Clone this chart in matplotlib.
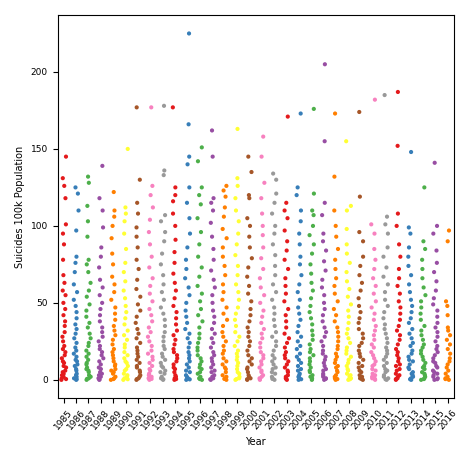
import pandas as pd
import matplotlib
matplotlib.use("Agg")
import matplotlib.pyplot as plt
import seaborn as sns

years = list(range(1985, 2017))

# approximate suicide rates per country for each year
rates = {
    1985: [0, 0.5, 1, 2, 3, 4, 5, 6, 8, 9, 11, 12, 14, 16, 18, 20, 22, 25, 28, 31, 35, 38, 42, 46, 50, 55, 58, 63, 68, 78, 88, 95, 101, 118, 126, 131, 145],
    1986: [0, 0.4, 1, 2, 3, 4, 6, 7, 9, 10, 12, 13, 15, 17, 19, 21, 24, 27, 30, 33, 36, 40, 44, 48, 52, 57, 62, 70, 76, 80, 97, 110, 121, 125],
    1987: [0, 0.6, 1, 2, 3, 5, 6, 7, 8, 10, 11, 13, 15, 17, 19, 22, 24, 27, 30, 34, 37, 41, 45, 49, 54, 58, 63, 70, 75, 78, 93, 103, 113, 128, 132],
    1988: [0, 0.3, 1, 2, 3, 4, 5, 7, 8, 10, 12, 14, 16, 18, 20, 22, 25, 28, 31, 34, 38, 42, 46, 50, 55, 60, 65, 73, 80, 86, 99, 110, 118, 139],
    1989: [0, 0.5, 1, 2, 4, 5, 6, 7, 9, 10, 12, 14, 16, 18, 20, 23, 26, 29, 32, 35, 39, 43, 47, 52, 57, 62, 67, 75, 82, 92, 100, 106, 110, 122],
    1990: [0, 0.4, 1, 2, 3, 4, 6, 7, 9, 11, 12, 14, 16, 18, 21, 23, 26, 29, 32, 36, 40, 44, 48, 53, 58, 64, 70, 76, 85, 95, 103, 108, 112, 150],
    1991: [0, 0.5, 1, 2, 3, 5, 6, 8, 9, 11, 13, 15, 17, 19, 21, 24, 27, 30, 33, 37, 41, 45, 49, 54, 59, 65, 72, 78, 86, 93, 99, 108, 115, 130, 177],
    1992: [0, 0.6, 1, 2, 3, 4, 6, 7, 9, 11, 13, 15, 17, 19, 22, 25, 28, 31, 34, 38, 42, 46, 51, 56, 61, 66, 73, 80, 88, 96, 104, 112, 120, 126, 177],
    1993: [0, 0.4, 1, 2, 4, 5, 6, 8, 9, 11, 13, 15, 17, 20, 22, 25, 28, 31, 35, 39, 43, 47, 52, 57, 62, 68, 75, 82, 90, 96, 103, 107, 133, 136, 178],
    1994: [0, 0.5, 1, 2, 3, 5, 7, 8, 10, 12, 14, 16, 18, 20, 23, 26, 29, 32, 36, 40, 44, 48, 53, 58, 63, 69, 76, 83, 91, 100, 108, 116, 120, 125, 177],
    1995: [0, 0.3, 1, 2, 3, 5, 6, 8, 10, 12, 14, 16, 18, 21, 24, 27, 30, 33, 37, 41, 45, 50, 55, 60, 66, 72, 78, 86, 95, 105, 115, 125, 140, 145, 166, 225],
    1996: [0, 0.5, 1, 2, 4, 5, 7, 8, 10, 12, 14, 16, 19, 21, 24, 27, 30, 34, 38, 42, 46, 51, 56, 61, 67, 73, 80, 88, 96, 105, 114, 120, 125, 142, 151],
    1997: [0, 0.4, 1, 2, 3, 5, 6, 8, 10, 12, 14, 16, 18, 21, 24, 27, 30, 33, 37, 41, 45, 50, 55, 60, 65, 71, 78, 85, 93, 102, 110, 115, 118, 145, 162],
    1998: [0, 0.6, 1, 2, 3, 5, 7, 8, 10, 12, 14, 17, 19, 22, 25, 28, 31, 35, 39, 43, 47, 52, 57, 62, 68, 74, 80, 86, 92, 98, 106, 112, 119, 123, 126],
    1999: [0, 0.5, 1, 2, 4, 5, 7, 9, 11, 13, 15, 17, 19, 22, 25, 28, 31, 35, 39, 43, 47, 52, 57, 62, 68, 74, 81, 88, 95, 103, 110, 118, 126, 131, 163],
    2000: [0, 0.4, 1, 2, 3, 5, 7, 8, 10, 12, 14, 16, 19, 22, 25, 28, 31, 34, 38, 42, 46, 51, 56, 61, 67, 73, 79, 86, 93, 100, 105, 118, 120, 135, 145],
    2001: [0, 0.5, 1, 2, 3, 5, 6, 8, 10, 12, 14, 16, 18, 21, 24, 27, 30, 33, 37, 41, 45, 50, 55, 60, 66, 72, 79, 86, 94, 100, 108, 118, 128, 145, 158],
    2002: [0, 0.6, 1, 2, 4, 5, 7, 8, 10, 12, 14, 16, 19, 22, 25, 28, 31, 35, 39, 43, 47, 52, 57, 62, 68, 74, 81, 88, 95, 100, 108, 115, 121, 130, 134],
    2003: [0, 0.5, 1, 2, 3, 5, 6, 8, 10, 12, 14, 16, 18, 21, 24, 27, 30, 34, 38, 42, 46, 51, 56, 61, 66, 72, 78, 84, 90, 97, 105, 110, 115, 171],
    2004: [0, 0.4, 1, 2, 3, 4, 6, 7, 9, 11, 13, 15, 17, 20, 22, 25, 28, 31, 35, 39, 43, 47, 52, 57, 62, 68, 75, 80, 88, 95, 103, 110, 120, 125, 173],
    2005: [0, 0.5, 1, 2, 3, 5, 6, 8, 10, 12, 14, 16, 18, 20, 23, 26, 29, 32, 36, 40, 44, 48, 53, 58, 63, 69, 75, 82, 88, 94, 100, 107, 110, 121, 176],
    2006: [0, 0.6, 1, 2, 3, 4, 6, 7, 9, 11, 13, 15, 17, 19, 22, 25, 28, 31, 34, 38, 42, 46, 50, 55, 60, 65, 71, 77, 84, 90, 95, 107, 115, 155, 205],
    2007: [0, 0.5, 1, 2, 3, 5, 6, 8, 9, 11, 13, 15, 17, 20, 22, 25, 28, 31, 34, 38, 42, 46, 51, 56, 61, 66, 72, 78, 85, 93, 100, 110, 132, 173],
    2008: [0, 0.4, 1, 2, 3, 4, 6, 7, 9, 11, 13, 15, 17, 19, 21, 24, 27, 30, 33, 37, 41, 45, 49, 54, 59, 64, 70, 76, 82, 88, 98, 110, 113, 155],
    2009: [0, 0.5, 1, 2, 3, 5, 6, 8, 9, 11, 13, 15, 17, 19, 22, 24, 27, 30, 33, 37, 40, 44, 48, 53, 58, 63, 68, 74, 80, 90, 96, 119, 174],
    2010: [0, 0.6, 1, 2, 3, 4, 6, 7, 9, 10, 12, 14, 16, 18, 21, 23, 26, 29, 32, 35, 39, 43, 47, 51, 56, 61, 66, 72, 78, 85, 95, 101, 182],
    2011: [0, 0.4, 1, 2, 3, 5, 6, 7, 9, 11, 13, 15, 17, 19, 21, 24, 27, 30, 33, 36, 40, 44, 48, 52, 57, 62, 67, 73, 80, 86, 95, 101, 106, 185],
    2012: [0, 0.5, 1, 2, 3, 4, 6, 7, 9, 10, 12, 14, 16, 18, 20, 23, 26, 29, 32, 35, 39, 43, 47, 51, 56, 61, 66, 72, 80, 88, 100, 108, 152, 187],
    2013: [0, 0.4, 1, 2, 3, 4, 5, 7, 8, 10, 12, 13, 15, 17, 19, 22, 24, 27, 30, 33, 37, 40, 44, 48, 52, 57, 62, 68, 74, 80, 86, 95, 99, 148],
    2014: [0, 0.5, 1, 2, 3, 4, 5, 7, 8, 9, 11, 13, 15, 17, 19, 21, 23, 26, 29, 32, 35, 39, 43, 47, 51, 55, 60, 66, 72, 78, 85, 90, 125],
    2015: [0, 0.4, 1, 2, 3, 4, 5, 6, 8, 9, 11, 12, 14, 16, 18, 20, 22, 25, 28, 31, 34, 37, 41, 45, 49, 53, 58, 64, 70, 76, 84, 95, 100, 141],
    2016: [0, 0.5, 1, 2, 4, 6, 8, 10, 12, 14, 17, 20, 23, 26, 29, 32, 34, 42, 48, 51, 90, 97],
}

rows = [(y, v) for y in years for v in rates[y]]
df = pd.DataFrame(rows, columns=["year", "suicides/100k pop"])

fig, ax = plt.subplots(figsize=(4.74, 4.62), dpi=100)
sns.stripplot(data=df, x="year", y="suicides/100k pop", hue="year", palette="Set1",
              jitter=0.2, size=3, legend=False, ax=ax)
ax.set_xlabel("Year", fontsize=7)
ax.set_ylabel("Suicides 100k Population", fontsize=7)
ax.set_ylim(-12, 237)
ax.tick_params(axis="x", labelsize=6.5, rotation=50)
ax.tick_params(axis="y", labelsize=6.5)
plt.tight_layout()
plt.savefig("out.png", dpi=100)
